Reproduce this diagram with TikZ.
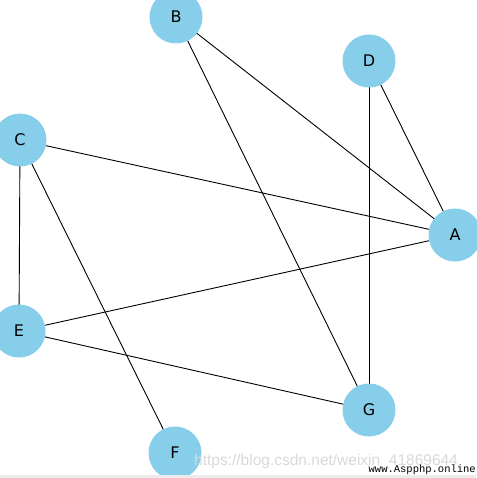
\documentclass[tikz,border=0pt]{standalone}
\usepackage{fontspec}
\setmainfont{DejaVu Sans}
\newfontfamily\wmfont{Liberation Sans}
\newfontfamily\monof{Liberation Mono}
\definecolor{skyb}{HTML}{87CEEB}
\begin{document}
\begin{tikzpicture}[x=1pt,y=-1pt,
  vert/.style={circle,fill=skyb,minimum size=53pt,inner sep=0pt,font=\fontsize{16}{16}\selectfont},
  edge/.style={black,line width=0.9pt}]
\useasboundingbox (0,0) rectangle (476,478);
\fill[white] (0,0) rectangle (476,478);
\coordinate (A) at (455,235);
\coordinate (B) at (176,17);
\coordinate (C) at (20,140);
\coordinate (D) at (369,61);
\coordinate (E) at (19,331);
\coordinate (F) at (175,453);
\coordinate (G) at (369,410);
\draw[edge] (B) -- (A);
\draw[edge] (B) -- (G);
\draw[edge] (D) -- (A);
\draw[edge] (D) -- (G);
\draw[edge] (C) -- (A);
\draw[edge] (C) -- (E);
\draw[edge] (C) -- (F);
\draw[edge] (E) -- (A);
\draw[edge] (E) -- (G);
\foreach \n in {A,B,C,D,E,F,G}{\node[vert] (v\n) at (\n) {\n};}
\node[anchor=west,text=gray!30,font=\wmfont\fontsize{15.5}{15.5}\selectfont,inner sep=0pt] (wm) at (194,461) {https://blog.csdn.net/weixin\_41869644};
\fill[gray!15] (0,474.5) rectangle (476,478);
\node[anchor=east,font=\monof\fontsize{10.5}{10.5}\selectfont,inner sep=0pt] (wm2) at (476,469.5) {www.Aspphp.online};
\end{tikzpicture}
\end{document}
